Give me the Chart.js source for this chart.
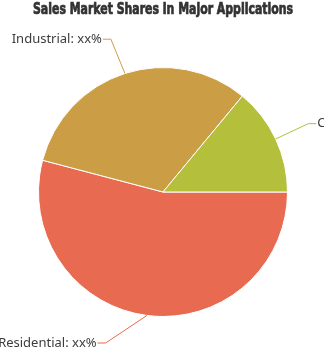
<!DOCTYPE html>
<html>
<head>
<meta charset="utf-8">
<script src="https://cdn.jsdelivr.net/npm/chart.js@4"></script>
<style>
  html, body { margin: 0; padding: 0; background: #fff; }
  #wrap { width: 324px; height: 359px; position: relative; }
</style>
</head>
<body>
<div id="wrap"><canvas id="myChart"></canvas></div>
<script>
// datos
const titulo = 'Sales Market Shares in Major Applications';
const categorias = ['Residential', 'Industrial', 'Commercial'];
const valores = [54.1, 31.9, 14.0];
const etiquetas = categorias.map((c) => c + ': xx%');
const colores = ['#e86a50', '#cb9e46', '#b4bf3b'];

// titulo condensado, ajustado al ancho del original
const tituloPlugin = {
  id: 'tituloPlugin',
  afterDraw(chart) {
    const ctx = chart.ctx;
    ctx.save();
    ctx.font = 'bold 15px "DejaVu Sans Condensed", "DejaVu Sans"';
    ctx.textBaseline = 'middle';
    ctx.textAlign = 'center';
    const ancho = ctx.measureText(titulo).width;
    const k = 260 / ancho;
    ctx.translate(163, 10);
    ctx.scale(k, 1);
    ctx.fillStyle = '#333';
    ctx.strokeStyle = '#333';
    ctx.lineWidth = 0.7;
    ctx.fillText(titulo, 0, 0);
    ctx.strokeText(titulo, 0, 0);
    ctx.restore();
  }
};

// lineas guia y textos fuera del pastel
const guias = {
  id: 'guias',
  afterDatasetsDraw(chart) {
    const ctx = chart.ctx;
    const arcos = chart.getDatasetMeta(0).data;
    ctx.save();
    ctx.font = '13px "Noto Sans"';
    ctx.textBaseline = 'middle';
    arcos.forEach((arco, i) => {
      const p = arco.getProps(['x', 'y', 'startAngle', 'endAngle', 'outerRadius']);
      const medio = (p.startAngle + p.endAngle) / 2;
      const cos = Math.cos(medio), sin = Math.sin(medio);
      const x0 = p.x + cos * p.outerRadius;
      const y0 = p.y + sin * p.outerRadius;
      const r2 = p.outerRadius + 36;
      let y1 = p.y + sin * r2;
      y1 = Math.min(Math.max(y1, 20), chart.height - 16);
      const dy = y1 - p.y;
      const dx = Math.sqrt(Math.max(r2 * r2 - dy * dy, 0));
      const lado = cos >= 0 ? 1 : -1;
      const x1 = p.x + lado * (dx + (lado < 0 ? 3 : 0));
      const x2 = x1 + lado * 8;
      ctx.strokeStyle = colores[i];
      ctx.lineWidth = 1;
      ctx.beginPath();
      ctx.moveTo(x0, y0);
      ctx.lineTo(x1, y1);
      ctx.lineTo(x2, y1);
      ctx.stroke();
      ctx.fillStyle = '#3c3c3c';
      ctx.textAlign = lado > 0 ? 'left' : 'right';
      ctx.fillText(etiquetas[i], x2 + lado * 1, y1);
    });
    ctx.restore();
  }
};

var ctx = document.getElementById('myChart').getContext('2d');

var myChart = new Chart(ctx, {
    type: 'pie',
    data: {
        labels: categorias,
        datasets: [{
            data: valores,
            backgroundColor: colores,
            borderColor: '#ffffff',
            borderWidth: 1,
            hoverOffset: 0
        }]
    },
    options: {
        responsive: true,
        maintainAspectRatio: false,
        animation: false,
        rotation: 90,
        layout: {
            padding: { top: 67, bottom: 42, left: 38, right: 36 }
        },
        plugins: {
            legend: { display: false },
            tooltip: { enabled: false },
            title: { display: false }
        }
    },
    plugins: [guias, tituloPlugin]
});
</script>
</body>
</html>
